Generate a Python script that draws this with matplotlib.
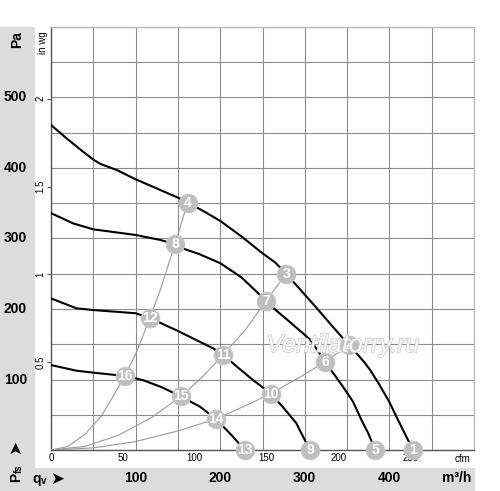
import numpy as np
import matplotlib
matplotlib.use('Agg')
import matplotlib.pyplot as plt
from matplotlib.patches import Rectangle
import matplotlib.patheffects as pe

plt.rcParams['font.family'] = ['Liberation Sans', 'DejaVu Sans']

# ---------------- data ----------------
# fan curves: qv in m3/h, Pfs in Pa
curve1_q = [0, 18.5, 38, 50, 58, 78, 100, 125, 150, 161.5, 180, 200, 225, 250, 265, 278, 298, 315, 333, 352, 362, 370, 377, 388, 400, 410, 420, 425, 428]
curve1_p = [461, 442, 423, 412, 406, 397, 384, 371, 358, 351, 339, 325, 303, 279, 266, 250, 223, 200, 175, 149, 136, 125, 114, 93, 68, 43, 19, 7, 0]

curve2_q = [0, 26, 50, 100, 129, 146.5, 158, 175, 200, 225, 247, 254, 268, 280, 306, 315, 324, 331, 345, 357, 367, 375, 380, 383]
curve2_p = [336, 321.5, 313, 305, 298, 292, 285, 278, 265, 245, 220, 211, 196, 184, 157, 141.5, 125, 113.5, 90, 68.5, 42.5, 23.6, 9.5, 0]

curve3_q = [0, 30, 50, 100, 117, 148, 170, 192, 203.5, 220, 239, 260, 274, 290, 300, 306]
curve3_p = [215, 201, 198.5, 194, 187, 170, 157, 144, 135, 118, 99, 80, 61, 38, 14, 0]

curve4_q = [0, 30, 50, 87.5, 109, 131, 153.5, 176, 195, 215, 229]
curve4_p = [120.5, 112.5, 109.7, 105, 99, 89, 76, 61.5, 44, 19, 0]

# system (resistance) curves through the operating points
sys1_q = [0, 20, 40, 60, 87.5, 100, 117, 130, 146.5, 161.5]
sys1_p = [0, 5, 22, 49, 105, 136, 187, 230, 292, 351]
sys2_q = [0, 40, 80, 120, 153.5, 180, 203.5, 230, 254, 278]
sys2_p = [0, 5, 21, 47, 76, 105, 135, 171, 211, 250]
sys3_q = [0, 50, 100, 150, 195, 230, 260, 295, 324, 352]
sys3_p = [0, 3, 12, 27, 44, 63, 80, 104, 125, 149]

# numbered operating points
point_ids = [1, 2, 3, 4, 5, 6, 7, 8, 9, 10, 11, 12, 13, 14, 15, 16]
point_q = [428, 352, 278, 161.5, 383, 324, 254, 146.5, 306, 260, 203.5, 117, 229, 195, 153.5, 87.5]
point_p = [0, 149, 250, 351, 0, 125, 211, 292, 0, 80, 135, 187, 0, 44, 76, 105]

pa_ticks = [100, 200, 300, 400, 500]
inwg_ticks = [0.5, 1, 1.5, 2]
inwg_labels = ['0.5', '1', '1.5', '2']
m3h_ticks = [100, 200, 300, 400]
cfm_ticks = [0, 50, 100, 150, 200, 250]

PA_PER_INWG = 249.09
M3H_PER_CFM = 1.699

# ---------------- figure ----------------
W, H = 500, 491
fig = plt.figure(figsize=(W / 100, H / 100), dpi=100)
band = '#dcdcdc'
fig.patches.append(Rectangle((0, 0), 35 / W, (H - 27) / H, transform=fig.transFigure,
                             facecolor=band, edgecolor='none', zorder=-5))
fig.patches.append(Rectangle((0, 0), 475 / W, (H - 468) / H, transform=fig.transFigure,
                             facecolor=band, edgecolor='none', zorder=-5))

ax = fig.add_axes([51 / W, (H - 450) / H, 423 / W, 423 / H])
ax.set_xlim(0, 500)
ax.set_ylim(0, 600)

grid_c = '#8c8c8c'
ax.set_xticks(np.arange(0, 501, 50))
ax.set_yticks(np.arange(0, 601, 50))
ax.set_xticklabels([])
ax.set_yticklabels([])
ax.tick_params(which='both', length=0)
ax.grid(which='both', color=grid_c, lw=0.8)
ax.set_axisbelow(True)
for s in ['top', 'right']:
    ax.spines[s].set_color('#b8b8b8')
    ax.spines[s].set_linewidth(0.9)
for s in ['left', 'bottom']:
    ax.spines[s].set_color('#555555')
    ax.spines[s].set_linewidth(1.0)

# main scale labels (Pa and m3/h) in the grey bands
for v in pa_ticks:
    ax.text(-24 / 423, v, str(v), transform=ax.get_yaxis_transform(), ha='right',
            va='center', fontsize=10, fontweight='bold', clip_on=False)
for v in m3h_ticks:
    ax.text(v, -28.5 / 423, str(v), transform=ax.get_xaxis_transform(), ha='center',
            va='center', fontsize=10, fontweight='bold', clip_on=False)

# secondary axes: in wg and cfm
sy = ax.secondary_yaxis('left', functions=(lambda p: p / PA_PER_INWG, lambda w: w * PA_PER_INWG))
sy.set_yticks(inwg_ticks)
sy.set_yticklabels(inwg_labels, rotation=90, fontsize=7, va='center')
sy.tick_params(length=3, width=0.8, color='#555555', pad=1)
sy.spines['left'].set_visible(False)

sx = ax.secondary_xaxis('bottom', functions=(lambda q: q / M3H_PER_CFM, lambda c: c * M3H_PER_CFM))
sx.set_xticks(cfm_ticks)
sx.set_xticklabels([str(v) for v in cfm_ticks], fontsize=7)
sx.tick_params(length=0, pad=2)
sx.spines['bottom'].set_visible(False)

# system curves
sys_c = '#9a9a9a'
for q, p in [(sys1_q, sys1_p), (sys2_q, sys2_p), (sys3_q, sys3_p)]:
    ax.plot(q, p, color=sys_c, lw=0.8, zorder=3)

# fan curves
for q, p in [(curve1_q, curve1_p), (curve2_q, curve2_p), (curve3_q, curve3_p), (curve4_q, curve4_p)]:
    ax.plot(q, p, color='black', lw=1.5, zorder=4, solid_capstyle='round', solid_joinstyle='round')

# numbered points
ax.plot(point_q, point_p, 'o', ms=13.5, mfc='#bebebe', mec='#c8c8c8', mew=0.6,
        clip_on=False, zorder=10, linestyle='none')
for n, q, p in zip(point_ids, point_q, point_p):
    ax.text(q, p, str(n), color='white', fontsize=10, fontweight='bold',
            ha='center', va='center', zorder=11, clip_on=False)

# watermark
ax.text(345, 149, 'Ventilatorry.ru', fontsize=18, style='italic', color='white', alpha=0.85,
        ha='center', va='center', zorder=12,
        path_effects=[pe.withStroke(linewidth=1.2, foreground='#c8c8c8')])

# units and axis captions
ax.text(479, -28.5 / 423, 'm³/h', transform=ax.get_xaxis_transform(), fontsize=10,
        fontweight='bold', ha='center', va='center', clip_on=False)
ax.text(486, -9.5 / 423, 'cfm', transform=ax.get_xaxis_transform(), fontsize=7,
        ha='center', va='center', clip_on=False)

def fx(px):
    return px / W

def fy(py):
    return 1 - py / H

fig.text(fx(17), fy(39.5), 'Pa', rotation=90, fontsize=10, fontweight='bold',
         ha='center', va='center')
fig.text(fx(43.5), fy(42.5), 'in wg', rotation=90, fontsize=7, ha='center', va='center')
fig.text(fx(16), fy(477.5), 'P', rotation=90, fontsize=10, fontweight='bold',
         ha='center', va='center')
fig.text(fx(18.5), fy(468.5), 'fs', rotation=90, fontsize=7, fontweight='bold',
         ha='center', va='center')
fig.text(fx(15.5), fy(447.5), '➤', rotation=90, fontsize=12, ha='center', va='center',
         family=['DejaVu Sans'])
fig.text(fx(37), fy(478.5), 'q', fontsize=10, fontweight='bold', ha='center', va='center')
fig.text(fx(43.5), fy(481.5), 'v', fontsize=7, fontweight='bold', ha='center', va='center')
fig.text(fx(57), fy(479), '➤', fontsize=12, ha='center', va='center', family=['DejaVu Sans'])

fig.savefig('out.png', dpi=100)
